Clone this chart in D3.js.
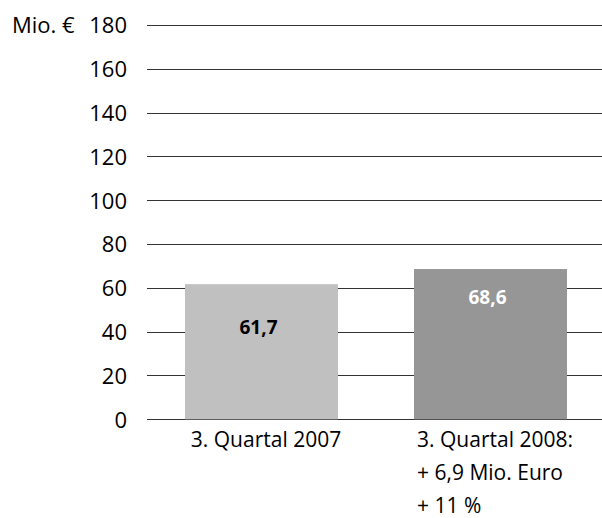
<!DOCTYPE html>
<html><head><meta charset="utf-8">
<script src="https://cdn.jsdelivr.net/npm/d3@7"></script>
<style>body{margin:0;background:#fff}svg{display:block;font-family:"Open Sans",sans-serif}</style>
</head><body><svg id="c" width="602" height="518"></svg>
<script>
const categories = ["3. Quartal 2007", "3. Quartal 2008"];
const values = [61.7, 68.6];
const valueLabels = ["61,7", "68,6"];
const categoryLines = [["3. Quartal 2007"], ["3. Quartal 2008:", "+ 6,9 Mio. Euro", "+ 11 %"]];
const tickValues = [0, 20, 40, 60, 80, 100, 120, 140, 160, 180];
const unitLabel = "Mio. €";
const barColors = ["#c0c0c0", "#969696"];
const valueColors = ["#000000", "#ffffff"];

const svg = d3.select("#c");
const y = d3.scaleLinear().domain([0, 180]).range([419.3, 25]);
const x = d3.scaleBand().domain(categories).range([147, 605]).paddingInner(0.332).paddingOuter(0.166);

// gridlines
svg.append("g").selectAll("line").data(tickValues).join("line")
  .attr("x1", 147).attr("x2", 602)
  .attr("y1", d => Math.round(y(d)) + 0.5).attr("y2", d => Math.round(y(d)) + 0.5)
  .attr("stroke", "#333").attr("stroke-width", 1);

// y axis labels
const yAxis = d3.axisLeft(y).tickValues(tickValues).tickSize(0).tickPadding(0).tickFormat(d3.format("d"));
const ga = svg.append("g").attr("transform", "translate(127,0)").call(yAxis);
ga.select(".domain").remove();
ga.selectAll("text").attr("font-size", 22).attr("font-family", "Open Sans").attr("fill", "#000").attr("dy", "0.36em");

svg.append("text").attr("x", 12).attr("y", y(180)).attr("dy", "0.36em")
  .attr("font-size", 22).text(unitLabel);

// bars
svg.append("g").selectAll("rect").data(values).join("rect")
  .attr("x", (d, i) => x(categories[i])).attr("width", x.bandwidth())
  .attr("y", d => y(d)).attr("height", d => y(0) - y(d))
  .attr("fill", (d, i) => barColors[i]);

// value labels
const valueOffsets = [50, 35];
svg.append("g").selectAll("text").data(values).join("text")
  .attr("x", (d, i) => x(categories[i]) + x.bandwidth() / 2 - 3)
  .attr("y", (d, i) => y(d) + valueOffsets[i])
  .attr("text-anchor", "middle").attr("font-weight", "bold").attr("font-size", 19)
  .attr("fill", (d, i) => valueColors[i])
  .text((d, i) => valueLabels[i]);

// category labels
categoryLines.forEach((lines, i) => {
  const cx = x(categories[i]) + x.bandwidth() / 2 + 4.5;
  const g = svg.append("g");
  const ts = g.selectAll("text").data(lines).join("text")
    .attr("y", (d, j) => 446.7 + j * 33.3)
    .attr("font-size", 21).attr("fill", "#000").text(d => d);
  let w = 0;
  ts.each(function () { w = Math.max(w, this.getComputedTextLength()); });
  ts.attr("x", cx - w / 2);
});
</script></body></html>
